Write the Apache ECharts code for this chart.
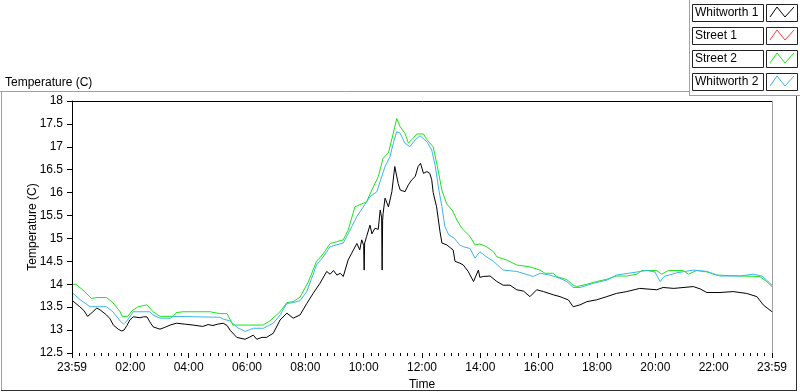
<!DOCTYPE html>
<html>
<head>
<meta charset="utf-8">
<script src="https://cdn.jsdelivr.net/npm/echarts@6/dist/echarts.min.js"></script>
<style>
  html, body { margin: 0; padding: 0; background: #fff; }
  #chart { width: 800px; height: 392px; }
</style>
</head>
<body>
<div id="chart"></div>
<script>
// minutes after 23:59 of the previous day
const w1Minutes = [
  0, 3, 8, 16, 25, 32, 41, 51, 58, 71,
  78, 85, 95, 102, 107, 113, 119, 126, 140, 147,
  154, 160, 167, 181, 191, 202, 215, 232, 249, 269,
  280, 290, 300, 311, 319, 325, 339, 356, 366, 373,
  380, 391, 400, 414, 428, 442, 455, 469, 483, 496,
  510, 524, 531, 538, 545, 552, 558, 568, 575, 586,
  592, 596, 600, 601, 602, 606, 613, 617, 623, 630,
  634, 637, 638, 639, 640, 644, 651, 658, 664, 671,
  675, 685, 692, 699, 706, 712, 717, 723, 730, 733,
  736, 740, 743, 750, 757, 761, 771, 778, 784, 788,
  798, 805, 815, 826, 836, 839, 846, 860, 874, 887,
  901, 915, 929, 942, 956, 970, 990, 1004, 1011, 1021,
  1031, 1045, 1059, 1079, 1100, 1120, 1141, 1168, 1203, 1216,
  1238, 1278, 1292, 1306, 1333, 1360, 1388, 1409, 1422, 1440
]
const w1Temps = [
  13.65, 13.64, 13.58, 13.51, 13.42, 13.30, 13.38, 13.48, 13.44, 13.33,
  13.25, 13.11, 13.02, 12.98, 13.00, 13.10, 13.22, 13.29, 13.27, 13.29,
  13.29, 13.18, 13.07, 13.02, 13.06, 13.11, 13.15, 13.13, 13.11, 13.08,
  13.12, 13.10, 13.13, 13.15, 13.10, 13.00, 12.84, 12.80, 12.85, 12.89,
  12.80, 12.84, 12.84, 12.93, 13.22, 13.37, 13.26, 13.33, 13.58, 13.80,
  14.02, 14.28, 14.22, 14.30, 14.20, 14.24, 14.17, 14.53, 14.67, 14.89,
  14.75, 14.97, 14.85, 14.31, 14.90, 15.04, 15.29, 15.10, 15.22, 15.20,
  15.62, 15.45, 14.31, 15.40, 15.55, 15.88, 15.69, 16.02, 16.57, 16.20,
  16.06, 16.02, 16.17, 16.28, 16.35, 16.57, 16.64, 16.42, 16.46, 16.48,
  16.42, 16.28, 16.00, 15.69, 15.15, 14.90, 14.86, 14.80, 14.75, 14.50,
  14.46, 14.42, 14.28, 14.06, 14.31, 14.15, 14.17, 14.18, 14.06, 13.98,
  13.98, 13.88, 13.85, 13.73, 13.88, 13.84, 13.77, 13.73, 13.70, 13.66,
  13.51, 13.55, 13.62, 13.66, 13.73, 13.80, 13.84, 13.91, 13.88, 13.93,
  13.91, 13.95, 13.90, 13.82, 13.82, 13.84, 13.80, 13.73, 13.55, 13.40
]

// Street 1 has no visible trace in the picture
const s1Minutes = []
const s1Temps = []

const s2Minutes = [
  0, 8, 25, 40, 51, 71, 84, 99, 103, 115,
  123, 136, 154, 167, 181, 208, 214, 228, 284, 304,
  319, 331, 393, 407, 428, 442, 455, 469, 486, 503,
  517, 531, 558, 568, 582, 606, 617, 630, 640, 651,
  661, 668, 675, 685, 692, 702, 709, 723, 730, 743,
  751, 761, 771, 782, 792, 802, 819, 829, 839, 853,
  867, 874, 894, 915, 942, 963, 973, 990, 997, 1018,
  1031, 1038, 1059, 1079, 1100, 1120, 1141, 1162, 1172, 1203,
  1213, 1227, 1257, 1268, 1285, 1306, 1326, 1374, 1415, 1429,
  1440
]
const s2Temps = [
  14.00, 14.00, 13.85, 13.69, 13.71, 13.71, 13.60, 13.40, 13.30, 13.30,
  13.42, 13.51, 13.55, 13.40, 13.30, 13.30, 13.38, 13.40, 13.40, 13.36,
  13.36, 13.11, 13.11, 13.20, 13.40, 13.60, 13.62, 13.72, 14.05, 14.50,
  14.67, 14.89, 14.97, 15.18, 15.69, 15.80, 16.06, 16.35, 16.75, 16.87,
  17.30, 17.62, 17.44, 17.29, 17.08, 17.19, 17.28, 17.28, 17.16, 17.00,
  16.60, 16.05, 15.75, 15.62, 15.40, 15.22, 15.04, 14.86, 14.88, 14.82,
  14.71, 14.60, 14.53, 14.42, 14.38, 14.31, 14.24, 14.24, 14.17, 14.10,
  13.98, 13.95, 14.00, 14.06, 14.11, 14.18, 14.18, 14.22, 14.30, 14.30,
  14.22, 14.30, 14.30, 14.22, 14.30, 14.27, 14.20, 14.18, 14.17, 14.06,
  13.95
]

const w2Minutes = [
  0, 3, 16, 37, 71, 84, 99, 106, 113, 126,
  160, 167, 181, 202, 208, 304, 311, 325, 341, 356,
  373, 394, 414, 428, 442, 455, 469, 483, 492, 503,
  517, 531, 558, 568, 586, 613, 627, 644, 654, 661,
  668, 675, 685, 695, 706, 716, 730, 740, 747, 754,
  761, 767, 775, 787, 797, 805, 819, 829, 839, 850,
  867, 887, 915, 949, 963, 983, 1004, 1018, 1031, 1045,
  1072, 1100, 1120, 1182, 1199, 1210, 1218, 1244, 1278, 1306,
  1333, 1374, 1401, 1419, 1429, 1440
]
const w2Temps = [
  13.82, 13.80, 13.67, 13.51, 13.51, 13.40, 13.20, 13.13, 13.20, 13.40,
  13.40, 13.33, 13.26, 13.26, 13.30, 13.28, 13.24, 13.20, 13.05, 12.97,
  13.04, 13.04, 13.15, 13.33, 13.58, 13.60, 13.64, 13.84, 14.10, 14.42,
  14.60, 14.82, 14.90, 15.10, 15.48, 15.91, 16.02, 16.57, 16.78, 17.08,
  17.33, 17.30, 17.08, 17.00, 17.15, 17.24, 17.11, 16.93, 16.60, 16.10,
  15.69, 15.26, 15.08, 15.00, 14.86, 14.82, 14.78, 14.57, 14.71, 14.62,
  14.50, 14.31, 14.28, 14.17, 14.24, 14.20, 14.13, 14.06, 13.93, 13.93,
  14.02, 14.09, 14.20, 14.30, 14.27, 14.06, 14.17, 14.25, 14.31, 14.28,
  14.18, 14.18, 14.22, 14.18, 14.09, 13.98
]

const seriesNames = ['Whitworth 1', 'Street 1', 'Street 2', 'Whitworth 2']
const seriesColors = ['#000000', '#ff3a3a', '#19e619', '#3cb4f0']

const FONT = '"Liberation Sans", Arial, sans-serif'

// plot box, in pixels
const PLOT = {left: 72, top: 101, width: 700, height: 252}

function zip (xs, ys) {
  let out = []
  for (let i = 0; i < xs.length; i++) {
    out.push([xs[i], ys[i]])
  }
  return out
}

function timeLabel (v) {
  if (v === 0 || v === 1440) {
    return '23:59'
  }
  let h = Math.round(v / 60)
  return (h < 10 ? '0' : '') + h + ':00'
}

function line (x1, y1, x2, y2, color) {
  return {type: 'line', shape: {x1: x1, y1: y1, x2: x2, y2: y2}, style: {stroke: color, lineWidth: 1}, z: 10}
}

// LabVIEW-style legend boxes in the top right corner
function legendGraphics () {
  let items = []
  for (let i = 0; i < seriesNames.length; i++) {
    let y = 4 + i * 23
    items.push({
      type: 'rect',
      shape: {x: 692.5, y: y + 0.5, width: 71, height: 17},
      style: {fill: '#fff', stroke: '#222', lineWidth: 1}
    })
    items.push({
      type: 'text',
      x: 695,
      y: y + 9,
      style: {text: seriesNames[i], font: '12px ' + FONT, fill: '#000', verticalAlign: 'middle'}
    })
    items.push({
      type: 'rect',
      shape: {x: 766.5, y: y + 0.5, width: 31, height: 17},
      style: {fill: '#fff', stroke: '#222', lineWidth: 1}
    })
    items.push({
      type: 'polyline',
      shape: {points: [[770, y + 13], [777, y + 3], [785, y + 13], [794, y + 3]]},
      style: {stroke: seriesColors[i], lineWidth: 1, fill: null}
    })
  }
  return items
}

const r = PLOT.left + PLOT.width
const b = PLOT.top + PLOT.height
const frameLines = [
  // outer chart frame
  line(0, 91.5, 689, 91.5, '#a0a0a0'),
  line(1.5, 91, 1.5, 391, '#a0a0a0'),
  line(1, 390.5, 797, 390.5, '#303030'),
  line(796.5, 95, 796.5, 391, '#303030'),
  // legend panel
  line(689.5, 0, 689.5, 95, '#a0a0a0'),
  line(689, 95.5, 800, 95.5, '#a0a0a0'),
  // plot box bevel: dark top/left, grey right
  line(PLOT.left, PLOT.top + 0.5, r + 1, PLOT.top + 0.5, '#000'),
  line(PLOT.left + 0.5, PLOT.top, PLOT.left + 0.5, b, '#000'),
  line(r + 0.5, PLOT.top, r + 0.5, b, '#a0a0a0')
]

const chart = echarts.init(document.getElementById('chart'), null, {renderer: 'canvas'})

const series = [
  zip(w1Minutes, w1Temps),
  zip(s1Minutes, s1Temps),
  zip(s2Minutes, s2Temps),
  zip(w2Minutes, w2Temps)
].map((data, i) => ({
  name: seriesNames[i],
  type: 'line',
  data: data,
  showSymbol: false,
  symbol: 'none',
  lineStyle: {color: seriesColors[i], width: 1},
  itemStyle: {color: seriesColors[i]}
}))

chart.setOption({
  animation: false,
  backgroundColor: '#fff',
  textStyle: {fontFamily: FONT},
  title: {
    text: 'Temperature (C)',
    left: 0,
    top: 72,
    textStyle: {fontSize: 12, fontWeight: 'normal', color: '#000', fontFamily: FONT}
  },
  grid: {
    left: PLOT.left,
    top: PLOT.top,
    width: PLOT.width,
    height: PLOT.height,
    containLabel: false,
    outerBoundsMode: 'none'
  },
  xAxis: {
    type: 'value',
    min: 0,
    max: 1440,
    interval: 120,
    name: 'Time',
    nameLocation: 'middle',
    nameGap: 26,
    nameMoveOverlap: false,
    nameTextStyle: {fontSize: 12, color: '#000', fontFamily: FONT},
    axisLine: {show: false, onZero: false},
    axisTick: {show: true, length: 5, lineStyle: {color: '#000'}},
    minorTick: {show: true, splitNumber: 8, length: 3, lineStyle: {color: '#000'}},
    axisLabel: {color: '#000', fontSize: 12, margin: 9, formatter: timeLabel, fontFamily: FONT},
    splitLine: {show: false}
  },
  yAxis: {
    type: 'value',
    min: 12.5,
    max: 18,
    interval: 0.5,
    name: 'Temperature (C)',
    nameLocation: 'middle',
    nameRotate: 90,
    nameGap: 33,
    nameMoveOverlap: false,
    nameTextStyle: {fontSize: 12, color: '#000', fontFamily: FONT},
    axisLine: {show: true, onZero: false, lineStyle: {color: '#000', width: 1}},
    axisTick: {show: true, length: 5, lineStyle: {color: '#000'}},
    axisLabel: {color: '#000', fontSize: 12, margin: 9, fontFamily: FONT},
    splitLine: {show: false}
  },
  graphic: frameLines.concat(legendGraphics()),
  series: series
})
</script>
</body>
</html>
